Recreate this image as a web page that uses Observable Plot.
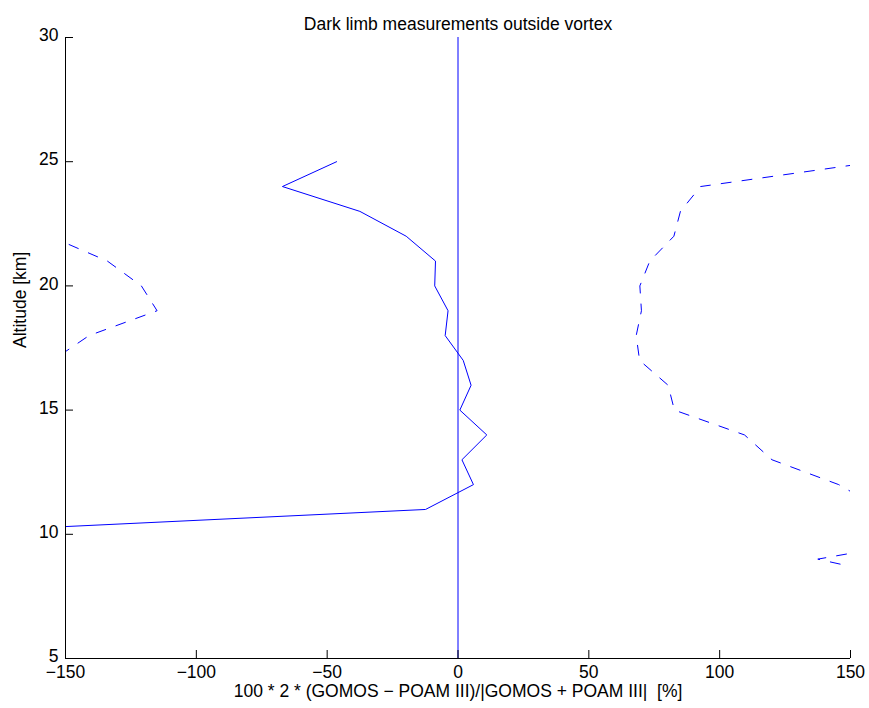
<!DOCTYPE html>
<html>
<head>
<meta charset="utf-8">
<script src="https://cdn.jsdelivr.net/npm/d3@7"></script>
<script src="https://cdn.jsdelivr.net/npm/@observablehq/plot@0.6"></script>
<style>
  html, body { margin: 0; padding: 0; background: #fff; }
</style>
</head>
<body>
<div id="chart"></div>
<script>
const titleText = "Dark limb measurements outside vortex";
const xLabel = "100 * 2 * (GOMOS \u2212 POAM III)/|GOMOS + POAM III|  [%]";
const yLabel = "Altitude [km]";

const xTicks = [-150, -100, -50, 0, 50, 100, 150];
const yTicks = [5, 10, 15, 20, 25, 30];

// Solid profile
const solidAlt = [25, 24, 23, 22, 21, 20, 19, 18, 17, 16, 15, 14, 13, 12, 11, 10];
const solidVal = [-46.4, -67.1, -37.5, -19.8, -8.6, -8.9, -3.8, -4.9, 2.0, 5.0, 0.7, 11.0, 1.5, 5.9, -12.4, -212];

// Dashed profile (right branch)
const dashRAlt = [25, 24, 23, 22, 21, 20, 19, 18, 17, 16, 15, 14, 13, 12, 11, 10, 9, 8];
const dashRVal = [160, 92.7, 85, 82.5, 73.3, 69.5, 70.1, 68.1, 69.4, 80.3, 82.7, 109.5, 120, 145.5, 162, 191, 137.5, 180];

// Dashed profile (left branch)
const dashLAlt = [22, 21, 20, 19, 18, 17];
const dashLVal = [-156, -134, -121, -115, -141, -155];

const zeroLine = [0];

const toRows = (alt, val) => alt.map((a, i) => ({alt: a, v: val[i]}));
const solid = toRows(solidAlt, solidVal);
const dashR = toRows(dashRAlt, dashRVal);
const dashL = toRows(dashLAlt, dashLVal);

const blue = "#0000ff";
const minusFmt = d => d < 0 ? "\u2212" + Math.abs(d) : String(d);

const chart = Plot.plot({
  width: 869,
  height: 708,
  marginLeft: 65,
  marginRight: 19,
  marginTop: 37,
  marginBottom: 50,
  style: {fontFamily: "'Liberation Sans', Arial, sans-serif", fontSize: "17px", color: "#000", background: "#fff"},
  x: {domain: [-150, 150], ticks: xTicks, label: null},
  y: {domain: [5, 30], ticks: yTicks, label: null},
  marks: [
    Plot.ruleX(zeroLine, {stroke: blue, strokeWidth: 1}),
    Plot.line(solid, {x: "v", y: "alt", stroke: blue, strokeWidth: 1, clip: true}),
    Plot.line(dashR, {x: "v", y: "alt", stroke: blue, strokeWidth: 1, strokeDasharray: "10,11", clip: true}),
    Plot.line(dashL, {x: "v", y: "alt", stroke: blue, strokeWidth: 1, strokeDasharray: "10,11", clip: true}),
    Plot.axisX({ticks: xTicks, tickSize: -8, tickPadding: 15, tickFormat: minusFmt, label: null, fontSize: 17.5}),
    Plot.axisY({ticks: yTicks, tickSize: -8, tickFormat: () => "", label: null}),
    Plot.axisY({ticks: yTicks, tickSize: 0, tickPadding: 7, label: null, fontSize: 17.5, dy: -2}),
    Plot.ruleX([-150], {stroke: "#000", strokeWidth: 1}),
    Plot.ruleY([5], {stroke: "#000", strokeWidth: 1}),
    Plot.text([titleText], {frameAnchor: "top", dy: -20, text: d => d, fontSize: 17.5}),
    Plot.text([xLabel], {frameAnchor: "bottom", dy: 38, text: d => d, fontSize: 17.5}),
    Plot.text([yLabel], {frameAnchor: "left", dx: -45, rotate: -90, text: d => d, fontSize: 17.5})
  ]
});
document.getElementById("chart").appendChild(chart);
</script>
</body>
</html>
